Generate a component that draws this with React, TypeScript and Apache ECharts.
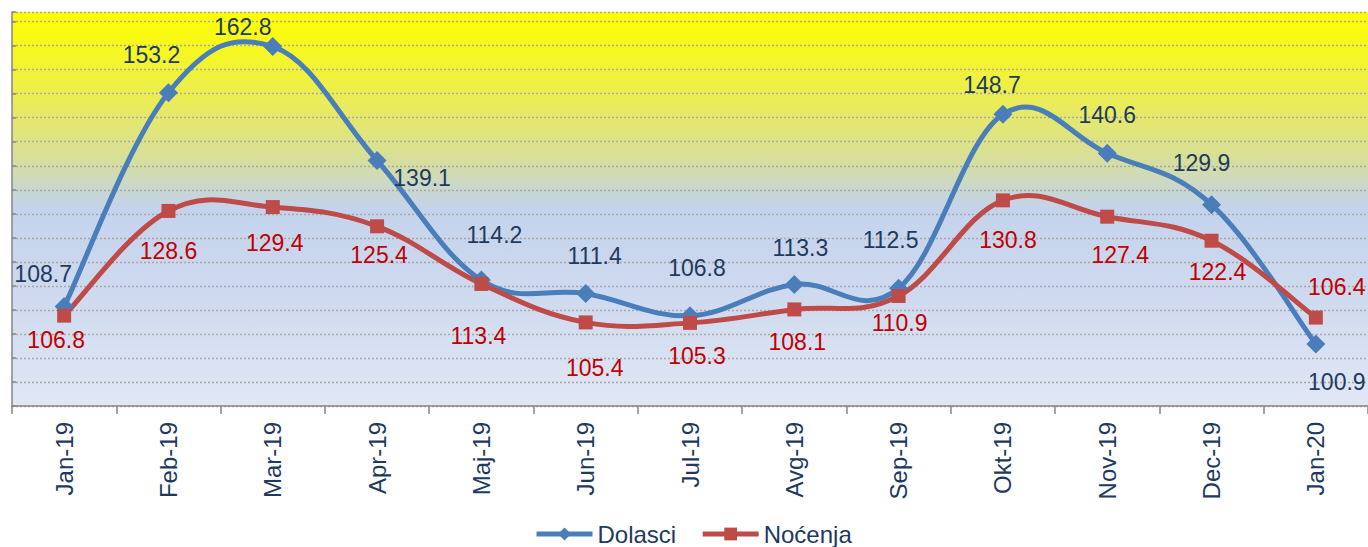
import React, { useEffect, useRef } from "react";
import * as echarts from "echarts";

const categories = ["Jan-19", "Feb-19", "Mar-19", "Apr-19", "Maj-19", "Jun-19", "Jul-19", "Avg-19", "Sep-19", "Okt-19", "Nov-19", "Dec-19", "Jan-20"];
const dolasci = [108.7, 153.2, 162.8, 139.1, 114.2, 111.4, 106.8, 113.3, 112.5, 148.7, 140.6, 129.9, 100.9];
const nocenja = [106.8, 128.6, 129.4, 125.4, 113.4, 105.4, 105.3, 108.1, 110.9, 130.8, 127.4, 122.4, 106.4];

// label offsets (styling only) relative to each marker centre
const dolasciLabelOffsets = [[-21, -33], [-17, -38], [-30, -20], [45, 18], [13, -45], [9, -38], [7, -48], [6, -36], [-8, -48], [-11, -29], [0, -38], [-10, -42], [21, 38]];
const nocenjaLabelOffsets = [[-8, 24], [0, 40], [2, 36], [2, 29], [-3, 52], [9, 46], [7, 33], [3, 33], [1, 27], [5, 40], [13, 38], [6, 31], [21, -31]];

const FONT = "'Liberation Sans', Arial, sans-serif";
const BLUE = "#4A7EBB";
const RED = "#BE4B48";
const NAVY = "#1F3A5F";
const LABEL_RED = "#C00000";
const TENSION = 0.19;

// Excel-like (Catmull-Rom) smoothed curve drawn through the chart's own scales
function curveSeries(name: string, vals: number[], color: string, z: number) {
  return {
    name,
    type: "custom",
    yAxisIndex: 0,
    z,
    silent: true,
    data: vals.map((v, i) => [i, v]),
    encode: { x: 0, y: 1 },
    renderItem: (params: any, api: any) => {
      const i = params.dataIndex;
      const n = vals.length;
      if (i >= n - 1) return null;
      const p = (j: number) => api.coord([Math.max(0, Math.min(n - 1, j)), vals[Math.max(0, Math.min(n - 1, j))]]);
      const p0 = p(i - 1), p1 = p(i), p2 = p(i + 1), p3 = p(i + 2);
      const c1 = [p1[0] + (p2[0] - p0[0]) * TENSION, p1[1] + (p2[1] - p0[1]) * TENSION];
      const c2 = [p2[0] - (p3[0] - p1[0]) * TENSION, p2[1] - (p3[1] - p1[1]) * TENSION];
      const d = `M${p1[0]},${p1[1]} C${c1[0]},${c1[1]} ${c2[0]},${c2[1]} ${p2[0]},${p2[1]}`;
      return {
        type: "path",
        shape: { pathData: d },
        style: { stroke: color, lineWidth: 5, fill: "none", lineCap: "round", lineJoin: "round" },
      };
    },
  };
}

export default function App() {
  const ref = useRef<HTMLDivElement>(null);
  useEffect(() => {
    if (!ref.current) return;
    const chart = echarts.init(ref.current, undefined, { renderer: "svg" });
    const mk = (vals: number[], offs: number[][]) =>
      vals.map((v, i) => ({
        value: v,
        label: { offset: offs[i] },
      }));
    const labelBase = {
      show: true,
      position: "inside",
      align: "center",
      verticalAlign: "middle",
      fontSize: 23,
      fontFamily: FONT,
      formatter: (p: any) => Number(p.value).toFixed(1),
    };
    chart.setOption({
      animation: false,
      textStyle: { fontFamily: FONT },
      grid: {
        left: 12,
        top: 12,
        width: 1358,
        height: 394,
        show: true,
        borderWidth: 0,
        backgroundColor: {
          type: "linear",
          x: 0, y: 0, x2: 0, y2: 1,
          colorStops: [
            { offset: 0, color: "#FFFF00" },
            { offset: 0.08, color: "#F8F81A" },
            { offset: 0.25, color: "#E8EA62" },
            { offset: 0.38, color: "#D6DE9E" },
            { offset: 0.46, color: "#C8D6D6" },
            { offset: 0.5, color: "#C4D3EC" },
            { offset: 0.7, color: "#CDD9EF" },
            { offset: 1, color: "#E1E7F5" },
          ],
        },
      },
      legend: {
        left: 529,
        top: 517,
        itemWidth: 56,
        itemHeight: 16,
        itemGap: 24,
        lineStyle: { opacity: 1, width: 5 },
        textStyle: { fontSize: 24, color: NAVY, fontFamily: FONT },
        data: ["Dolasci", "Noćenja"],
      },
      xAxis: {
        type: "category",
        data: categories,
        boundaryGap: true,
        axisLine: { show: true, lineStyle: { color: "#868686", width: 1.5 } },
        axisTick: { show: true, length: 8, lineStyle: { color: "#868686", width: 1.5 } },
        axisLabel: { rotate: 90, margin: 16, fontSize: 24, color: NAVY, fontFamily: FONT },
        splitLine: { show: false },
      },
      yAxis: [
        {
          type: "value",
          min: 88,
          max: 170,
          axisLine: { show: true, lineStyle: { color: "#868686", width: 1.5 } },
          axisTick: { show: false },
          axisLabel: { show: false },
          splitLine: { show: false },
        },
        {
          type: "value",
          min: 0,
          max: 16.4,
          interval: 1,
          position: "left",
          axisLine: { show: false },
          axisTick: { show: true, inside: true, length: 4, lineStyle: { color: "#868686", width: 1.5 } },
          axisLabel: { show: false },
          splitLine: { show: true, lineStyle: { color: "#A8A8A8", width: 1.4, type: [2, 2] } },
        },
      ],
      series: [
        curveSeries("Dolasci curve", dolasci, BLUE, 1),
        curveSeries("Noćenja curve", nocenja, RED, 2),
        {
          name: "Dolasci",
          type: "line",
          yAxisIndex: 0,
          data: mk(dolasci, dolasciLabelOffsets),
          symbol: "diamond",
          symbolSize: 19,
          lineStyle: { color: BLUE, width: 5, opacity: 0 },
          itemStyle: { color: BLUE },
          label: { ...labelBase, color: NAVY },
          z: 3,
        },
        {
          name: "Noćenja",
          type: "line",
          yAxisIndex: 0,
          data: mk(nocenja, nocenjaLabelOffsets),
          symbol: "rect",
          symbolSize: 14,
          lineStyle: { color: RED, width: 5, opacity: 0 },
          itemStyle: { color: RED },
          label: { ...labelBase, color: LABEL_RED },
          z: 4,
        },
      ],
    });
    return () => chart.dispose();
  }, []);
  return (
    <div
      ref={ref}
      style={{ position: "fixed", left: 0, top: 0, width: 1368, height: 547, overflow: "hidden", background: "#fff" }}
    />
  );
}
